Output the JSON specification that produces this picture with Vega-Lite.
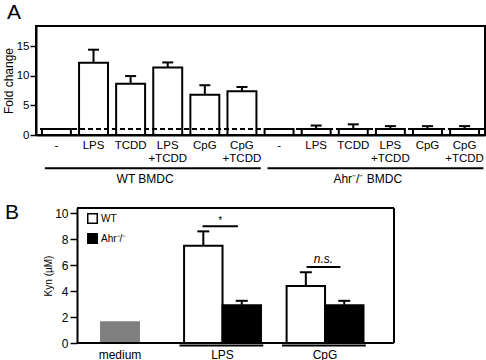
{
 "$schema": "https://vega.github.io/schema/vega-lite/v6.json",
 "padding": {"left": 1, "top": 1, "right": 2, "bottom": 0},
 "spacing": 16,
 "resolve": {"legend": {"fill": "independent"}, "scale": {"fill": "independent"}},
 "config": {
  "font": "Liberation Sans",
  "view": {"stroke": "black", "strokeWidth": 2},
  "axis": {"labelColor": "black", "titleColor": "black", "tickColor": "black", "domainColor": "black", "labelFont": "Liberation Sans", "titleFont": "Liberation Sans", "labelFontSize": 12, "titleFontSize": 12, "titleFontWeight": "normal", "grid": false, "domainWidth": 2, "tickWidth": 1.5, "labelOverlap": false},
  "title": {"color": "black", "font": "Liberation Sans", "fontSize": 21, "fontWeight": "normal"},
  "text": {"font": "Liberation Sans", "color": "black"}
 },
 "vconcat": [
  {
   "width": 449, "height": 109,
   "title": {"text": "A", "anchor": "start", "frame": "group", "dx": -29, "offset": 3},
   "data": {"values": [
    {"key": "01|-", "fold": 1.0, "upper": null},
    {"key": "02|LPS", "fold": 12.2, "upper": 14.4},
    {"key": "03|TCDD", "fold": 8.65, "upper": 9.95},
    {"key": "04|LPS|+TCDD", "fold": 11.4, "upper": 12.25},
    {"key": "05|CpG", "fold": 6.8, "upper": 8.4},
    {"key": "06|CpG|+TCDD", "fold": 7.4, "upper": 8.1},
    {"key": "07|-", "fold": 1.0, "upper": null},
    {"key": "08|LPS", "fold": 1.0, "upper": 1.6},
    {"key": "09|TCDD", "fold": 1.0, "upper": 1.8},
    {"key": "10|LPS|+TCDD", "fold": 1.0, "upper": 1.5},
    {"key": "11|CpG", "fold": 1.0, "upper": 1.5},
    {"key": "12|CpG|+TCDD", "fold": 1.0, "upper": 1.5}
   ]},
   "layer": [
    {
     "mark": {"type": "bar", "fill": "white", "stroke": "black", "strokeWidth": 2},
     "encoding": {
      "x": {"field": "key", "type": "nominal", "scale": {"paddingInner": 0.22, "paddingOuter": 0.16}, "axis": {"title": null, "labelAngle": 0, "labelAlign": "center", "bandPosition": 0.5, "ticks": false, "labelPadding": 4, "labelLineHeight": 13.5, "labelFontSize": 11.5, "labelOverlap": false, "labelExpr": "slice(split(datum.label, '|'), 1)"}},
      "y": {"field": "fold", "type": "quantitative", "scale": {"domain": [0, 18.4], "nice": false}, "axis": {"title": "Fold change", "values": [0, 5, 10, 15], "tickCount": 20, "tickSize": 6, "labelPadding": 1, "titlePadding": 1, "labelFontSize": 11.5, "titleFontSize": 12}}
     }
    },
    {
     "transform": [{"filter": "datum.upper != null"}],
     "mark": {"type": "rule", "strokeWidth": 2, "color": "black"},
     "encoding": {"x": {"field": "key", "type": "nominal"}, "y": {"field": "fold", "type": "quantitative"}, "y2": {"field": "upper"}}
    },
    {
     "transform": [{"filter": "datum.upper != null"}],
     "mark": {"type": "tick", "size": 11, "thickness": 2, "color": "black", "opacity": 1},
     "encoding": {"x": {"field": "key", "type": "nominal"}, "y": {"field": "upper", "type": "quantitative"}}
    },
    {
     "mark": {"type": "rule", "strokeDash": [5, 3], "strokeWidth": 1.5, "color": "black"},
     "encoding": {"y": {"datum": 1, "type": "quantitative"}}
    },
    {
     "data": {"values": [
      {"grp": "WT BMDC", "start": "01|-", "end": "06|CpG|+TCDD", "mid": "03|TCDD"},
      {"grp": "Ahr⁻/⁻ BMDC", "start": "07|-", "end": "12|CpG|+TCDD", "mid": "09|TCDD"}
     ]},
     "layer": [
      {
       "mark": {"type": "rule", "strokeWidth": 2, "color": "black"},
       "encoding": {"x": {"field": "start", "type": "nominal", "bandPosition": 0.1}, "x2": {"field": "end", "bandPosition": 1.15}, "y": {"datum": -5.6, "type": "quantitative"}}
      },
      {
       "mark": {"type": "text", "fontSize": 12, "baseline": "middle"},
       "encoding": {"x": {"field": "mid", "type": "nominal", "bandPosition": 1.0}, "y": {"datum": -7.35, "type": "quantitative"}, "text": {"field": "grp"}}
      }
     ]
    }
   ]
  },
  {
   "width": 358, "height": 135,
   "view": {"stroke": null},
   "title": {"text": "B", "anchor": "start", "frame": "group", "dx": -31, "dy": 16, "offset": 0},
   "data": {"values": [
    {"cond": "medium", "geno": "medium", "kyn": 1.67, "upper": null},
    {"cond": "LPS", "geno": "WT", "kyn": 7.5, "upper": 8.6},
    {"cond": "LPS", "geno": "Ahr⁻/⁻", "kyn": 2.9, "upper": 3.25},
    {"cond": "CpG", "geno": "WT", "kyn": 4.4, "upper": 5.45},
    {"cond": "CpG", "geno": "Ahr⁻/⁻", "kyn": 2.9, "upper": 3.25}
   ]},
   "layer": [
    {
     "transform": [{"filter": "datum.cond == 'medium'"}],
     "mark": {"type": "bar", "color": "#808080", "width": {"band": 0.52}},
     "encoding": {
      "x": {"field": "cond", "type": "nominal", "scale": {"domain": ["medium", "LPS", "CpG"], "paddingInner": 0.25, "paddingOuter": 0.371, "align": 0.599}, "axis": {"title": null, "labelAngle": 0, "labelAlign": "center", "bandPosition": 0.5, "ticks": false, "domain": false, "labelPadding": 6}},
      "y": {"field": "kyn", "type": "quantitative", "scale": {"domain": [0, 10.4], "nice": false}, "axis": {"title": "Kyn (µM)", "offset": -41, "values": [0, 2, 4, 6, 8, 10], "format": "d", "tickCount": 20, "tickSize": 7, "labelPadding": 2, "titlePadding": 1, "titleFontSize": 10}}
     }
    },
    {
     "data": {"values": [{"first": "medium", "last": "CpG"}]},
     "layer": [
      {"mark": {"type": "rule", "strokeWidth": 2, "color": "black"}, "encoding": {"x": {"field": "first", "type": "nominal", "bandPosition": -0.06}, "x2": {"field": "last", "bandPosition": 1.397}, "y": {"datum": 10.4, "type": "quantitative"}}},
      {"mark": {"type": "rule", "strokeWidth": 2, "color": "black"}, "encoding": {"x": {"field": "first", "type": "nominal", "bandPosition": -0.06}, "x2": {"field": "last", "bandPosition": 1.397}, "y": {"datum": 0, "type": "quantitative"}}},
      {"mark": {"type": "rule", "strokeWidth": 2, "color": "black"}, "encoding": {"x": {"field": "last", "type": "nominal", "bandPosition": 1.397}, "y": {"datum": 0, "type": "quantitative"}, "y2": {"datum": 10.4}}}
     ]
    },
    {
     "transform": [{"filter": "datum.cond != 'medium'"}],
     "mark": {"type": "bar", "stroke": "black", "strokeWidth": 2},
     "encoding": {
      "x": {"field": "cond", "type": "nominal"},
      "xOffset": {"field": "geno", "type": "nominal", "scale": {"domain": ["WT", "Ahr⁻/⁻"], "paddingInner": 0, "paddingOuter": 0}},
      "y": {"field": "kyn", "type": "quantitative"},
      "fill": {"field": "geno", "type": "nominal", "scale": {"domain": ["WT", "Ahr⁻/⁻"], "range": ["white", "black"]}, "legend": {"title": null, "orient": "none", "legendX": 51, "legendY": 5, "padding": 0, "symbolType": "square", "symbolSize": 90, "symbolStrokeColor": "black", "symbolStrokeWidth": 1.5, "labelFontSize": 10, "labelColor": "black", "labelFont": "Liberation Sans", "rowPadding": 3, "labelOffset": 3}}
     }
    },
    {
     "transform": [{"filter": "datum.cond != 'medium'"}],
     "mark": {"type": "rule", "strokeWidth": 2, "color": "black"},
     "encoding": {"x": {"field": "cond", "type": "nominal"}, "xOffset": {"field": "geno", "type": "nominal"}, "y": {"field": "kyn", "type": "quantitative"}, "y2": {"field": "upper"}}
    },
    {
     "transform": [{"filter": "datum.cond != 'medium'"}],
     "mark": {"type": "tick", "size": 12, "thickness": 2, "color": "black", "opacity": 1},
     "encoding": {"x": {"field": "cond", "type": "nominal"}, "xOffset": {"field": "geno", "type": "nominal"}, "y": {"field": "upper", "type": "quantitative"}}
    },
    {
     "data": {"values": [{"cond": "LPS"}]},
     "layer": [
      {"mark": {"type": "rule", "strokeWidth": 2, "color": "black"}, "encoding": {"x": {"field": "cond", "type": "nominal", "bandPosition": 0.24}, "x2": {"field": "cond", "bandPosition": 0.7}, "y": {"datum": 9.0, "type": "quantitative"}}},
      {"mark": {"type": "text", "fontSize": 10, "baseline": "bottom", "dy": 0}, "encoding": {"x": {"field": "cond", "type": "nominal", "bandPosition": 0.47}, "y": {"datum": 9.0, "type": "quantitative"}, "text": {"value": "*"}}}
     ]
    },
    {
     "data": {"values": [{"cond": "CpG"}]},
     "layer": [
      {"mark": {"type": "rule", "strokeWidth": 2, "color": "black"}, "encoding": {"x": {"field": "cond", "type": "nominal", "bandPosition": 0.26}, "x2": {"field": "cond", "bandPosition": 0.7}, "y": {"datum": 5.85, "type": "quantitative"}}},
      {"mark": {"type": "text", "fontSize": 12, "fontStyle": "italic", "baseline": "bottom", "dy": -1}, "encoding": {"x": {"field": "cond", "type": "nominal", "bandPosition": 0.48}, "y": {"datum": 5.85, "type": "quantitative"}, "text": {"value": "n.s."}}}
     ]
    },
    {
     "data": {"values": [{"cond": "LPS"}, {"cond": "CpG"}]},
     "mark": {"type": "rule", "strokeWidth": 2, "color": "black"},
     "encoding": {"x": {"field": "cond", "type": "nominal", "bandPosition": -0.06}, "x2": {"field": "cond", "bandPosition": 1.03}, "y": {"datum": -0.2, "type": "quantitative"}}
    }
   ]
  }
 ]
}
